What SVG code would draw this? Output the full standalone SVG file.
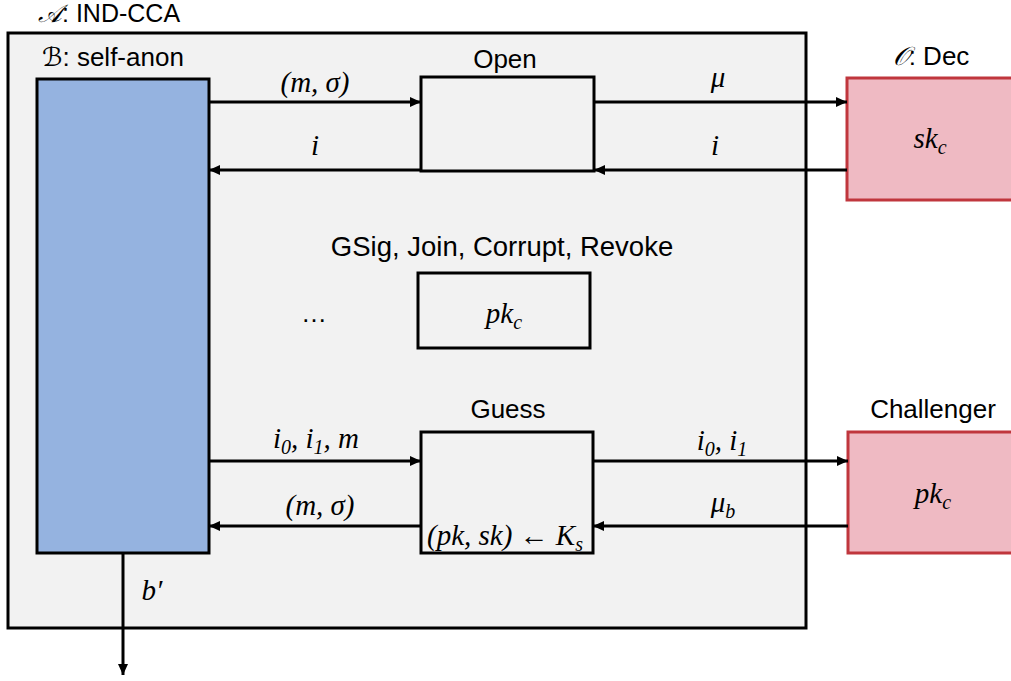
<svg xmlns="http://www.w3.org/2000/svg" width="1011" height="681" viewBox="0 0 1011 681">
  <style>
    .lbl { font-family: "Liberation Sans", Arial, sans-serif; font-size: 26px; fill: #000; }
    .mth { font-family: "Liberation Serif", "Times New Roman", serif; font-style: italic; font-size: 29px; fill: #000; }
    .sub { font-size: 20px; }
    .scr { font-family: "DejaVu Serif", "DejaVu Sans", "Noto Sans", serif; font-style: italic; }
    .box { fill: #f2f2f2; stroke: #000; stroke-width: 3; }
    .red { fill: #efbac3; stroke: #c0363d; stroke-width: 3; }
    .wire { stroke: #000; stroke-width: 3; fill: none; marker-end: url(#head); }
  </style>
  <defs>
    <marker id="head" markerUnits="userSpaceOnUse" markerWidth="12" markerHeight="10" refX="11" refY="5" orient="auto">
      <path d="M0,0 L11,5 L0,10 z" fill="#000"/>
    </marker>
  </defs>

  <rect width="1011" height="681" fill="#fff"/>

  <!-- adversary A: outer frame -->
  <g id="adversary">
    <rect x="8" y="33" width="798" height="595" class="box"/>
    <text x="38" y="22" class="lbl" style="font-size:25px"><tspan class="scr">𝒜</tspan>: IND-CCA</text>
  </g>

  <!-- reduction B -->
  <g id="reduction">
    <rect x="37" y="79" width="172" height="474" fill="#95b3e0" stroke="#000" stroke-width="3"/>
    <text x="42" y="66" class="lbl"><tspan class="scr">ℬ</tspan>: self-anon</text>
  </g>

  <!-- Open oracle simulation -->
  <g id="open">
    <rect x="421" y="77" width="173" height="94" class="box"/>
    <text x="505" y="68" class="lbl" text-anchor="middle">Open</text>
  </g>

  <!-- other oracles -->
  <g id="others">
    <text x="502" y="256" class="lbl" style="font-size:27.5px" text-anchor="middle">GSig, Join, Corrupt, Revoke</text>
    <rect x="418" y="273" width="172" height="75" class="box"/>
    <text x="504" y="323" class="mth" text-anchor="middle">pk<tspan class="sub" dy="6">c</tspan></text>
    <text x="314" y="322" class="lbl" text-anchor="middle">…</text>
  </g>

  <!-- Guess -->
  <g id="guess">
    <rect x="421" y="432" width="172" height="121" class="box"/>
    <text x="508" y="418" class="lbl" text-anchor="middle">Guess</text>
    <text x="505" y="545" class="mth" text-anchor="middle">(pk, sk) ← K<tspan class="sub" dy="6">s</tspan></text>
  </g>

  <!-- decryption oracle O -->
  <g id="dec-oracle">
    <rect x="847" y="78" width="180" height="122" class="red"/>
    <text x="931" y="65" class="lbl" text-anchor="middle"><tspan class="scr">𝒪</tspan>: Dec</text>
    <text x="930" y="148" class="mth" text-anchor="middle">sk<tspan class="sub" dy="6">c</tspan></text>
  </g>

  <!-- challenger -->
  <g id="challenger">
    <rect x="848" y="432" width="180" height="121" class="red"/>
    <text x="933" y="418" class="lbl" text-anchor="middle">Challenger</text>
    <text x="933" y="503" class="mth" text-anchor="middle">pk<tspan class="sub" dy="6">c</tspan></text>
  </g>

  <!-- message flow -->
  <g id="connectors">
    <line x1="209" y1="102" x2="421" y2="102" class="wire"/>
    <line x1="421" y1="170" x2="209" y2="170" class="wire"/>
    <line x1="594" y1="102" x2="847" y2="102" class="wire"/>
    <line x1="847" y1="170" x2="594" y2="170" class="wire"/>
    <line x1="209" y1="461" x2="421" y2="461" class="wire"/>
    <line x1="421" y1="526" x2="209" y2="526" class="wire"/>
    <line x1="593" y1="461" x2="848" y2="461" class="wire"/>
    <line x1="848" y1="526" x2="593" y2="526" class="wire"/>
    <line x1="123" y1="553" x2="123" y2="675" class="wire"/>

    <text x="315" y="92" class="mth" text-anchor="middle">(m, σ)</text>
    <text x="315" y="155" class="mth" text-anchor="middle">i</text>
    <text x="718" y="87" class="mth" text-anchor="middle">μ</text>
    <text x="715" y="155" class="mth" text-anchor="middle">i</text>
    <text x="316" y="448" class="mth" text-anchor="middle">i<tspan class="sub" dy="6">0</tspan><tspan dy="-6">, i</tspan><tspan class="sub" dy="6">1</tspan><tspan dy="-6">, m</tspan></text>
    <text x="320" y="515" class="mth" text-anchor="middle">(m, σ)</text>
    <text x="722" y="450" class="mth" text-anchor="middle">i<tspan class="sub" dy="6">0</tspan><tspan dy="-6">, i</tspan><tspan class="sub" dy="6">1</tspan></text>
    <text x="723" y="512" class="mth" text-anchor="middle">μ<tspan class="sub" dy="6">b</tspan></text>
    <text x="152" y="600" class="mth" text-anchor="middle">b′</text>
  </g>
</svg>
